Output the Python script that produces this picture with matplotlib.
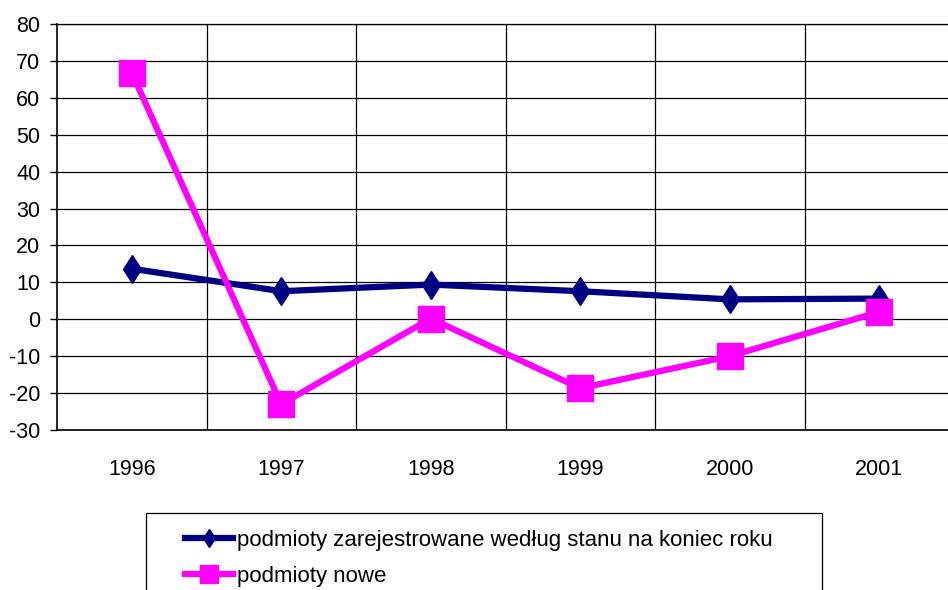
import numpy as np
import matplotlib.pyplot as plt
from matplotlib.patches import Rectangle

plt.rcParams['font.family'] = ['Liberation Sans', 'DejaVu Sans']
plt.rcParams['axes.unicode_minus'] = False

# Dane
lata = ['1996', '1997', '1998', '1999', '2000', '2001']
zarejestrowane = [13.7, 7.6, 9.4, 7.6, 5.4, 5.6]
nowe = [66.8, -23.0, 0.2, -18.7, -10.0, 2.0]
etykieta_1 = 'podmioty zarejestrowane według stanu na koniec roku'
etykieta_2 = 'podmioty nowe'

W, H = 948, 590
fig = plt.figure(figsize=(W / 100, H / 100), dpi=100)
ax = fig.add_axes([57 / W, 1 - 430 / H, 897 / W, 406 / H])

x = np.arange(len(lata))
ax.plot(x, zarejestrowane, color='#000080', lw=4.5, marker='d', ms=14.5,
        label=etykieta_1, zorder=3)
ax.plot(x, nowe, color='#FF00FF', lw=4.5, marker='s', ms=19,
        label=etykieta_2, zorder=4)

ax.set_xlim(-0.5, 5.5)
ax.set_ylim(-30, 80)
ax.set_yticks(np.arange(-30, 81, 10))
ax.set_xticks(x)
ax.set_xticklabels(lata)
ax.set_xticks(x[:-1] + 0.5, minor=True)

ax.tick_params(axis='y', labelsize=15.5, length=5, width=1, pad=7, color='black')
ax.tick_params(axis='x', which='major', labelsize=15.5, length=0, pad=21)
ax.tick_params(axis='x', which='minor', length=0)

ax.grid(axis='y', color='black', lw=0.9)
ax.grid(axis='x', which='minor', color='black', lw=0.9)
ax.set_axisbelow(True)

ax.spines['right'].set_visible(False)
ax.spines['top'].set_linewidth(0.9)
ax.spines['left'].set_linewidth(1.2)
ax.spines['bottom'].set_linewidth(1.2)

# Ramka legendy (ucieta na dole jak w oryginale)
fig.patches.append(Rectangle((146 / W, -0.05), 676 / W, 0.05 + (H - 513) / H,
                             transform=fig.transFigure, fill=False,
                             edgecolor='black', lw=0.9))
leg = fig.legend(loc='upper left', bbox_to_anchor=(165 / W, 1 - 510 / H),
                 frameon=False, fontsize=16, handlelength=2.15,
                 handletextpad=0.2, labelspacing=0.68, markerscale=0.65)

plt.savefig('out.png', dpi=100)
